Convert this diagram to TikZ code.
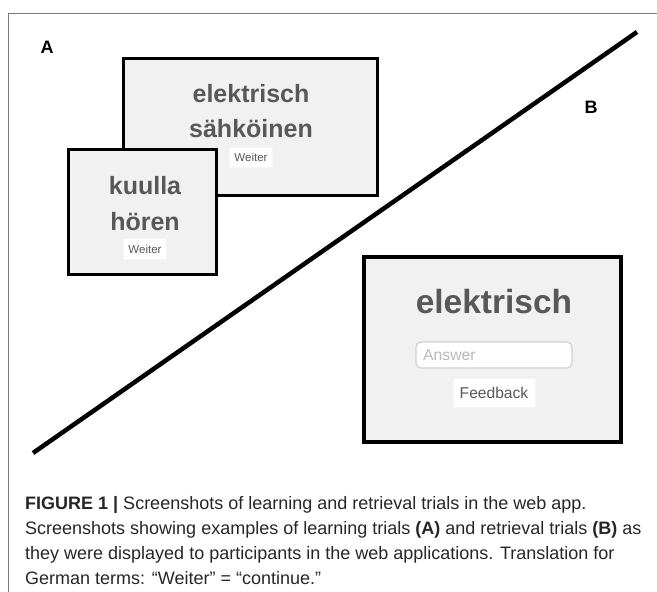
\documentclass[tikz,border=0pt]{standalone}
\usepackage{fontspec}
\setmainfont{Liberation Sans}
\usetikzlibrary{positioning}
\definecolor{screenfill}{HTML}{F1F1F1}
\definecolor{wordgray}{HTML}{585858}
\definecolor{framegray}{HTML}{7A7A7A}
\tikzset{
  trial/.style={x=1pt,y=-1pt},
  screen/.style={rectangle,draw=black,fill=screenfill,line width=2.6pt,inner sep=0pt},
  screen thick/.style={screen,line width=4pt},
  word/.style={anchor=base,text=wordgray,inner sep=0pt,
    font=\bfseries\fontsize{25}{25}\selectfont},
  big word/.style={word,font=\bfseries\fontsize{33.5}{33.5}\selectfont},
  button/.style={rectangle,fill=white,draw=gray!8,line width=0.6pt,inner sep=0pt,
    text=wordgray},
  field/.style={rectangle,rounded corners=5pt,fill=white,draw=gray!35,line width=1.2pt},
  panel label/.style={anchor=base,inner sep=0pt,font=\bfseries\fontsize{18}{18}\selectfont},
  caption/.style={anchor=base west,inner sep=0pt,text=black!85,
    font=\fontsize{18}{25}\selectfont}}

\begin{document}
\begin{tikzpicture}[trial]
  \useasboundingbox (0,0) rectangle (657,592);
  % figure frame
  \draw[framegray,line width=1pt] (657,13) -- (8,13) -- (8,592);
  \node[panel label] (labA) at (47,53) {A};
  \node[panel label] (labB) at (591,113) {B};
  % learning trials
  \node[screen,minimum width=254.4pt,minimum height=137.4pt] (learn1) at (250.5,127) {};
  \node[word] (learn1a) at (251,102) {elektrisch};
  \node[word] (learn1b) at (251,137) {sähköinen};
  \node[button,minimum width=43pt,minimum height=20pt,font=\fontsize{11.5}{11.5}\selectfont]
    (next1) at (251,157) {Weiter};
  \node[screen,minimum width=148.3pt,minimum height=125.3pt] (learn2) at (142.5,212) {};
  \node[word] (learn2a) at (145,194) {kuulla};
  \node[word] (learn2b) at (145,230) {hören};
  \node[button,minimum width=43pt,minimum height=21pt,font=\fontsize{11.5}{11.5}\selectfont]
    (next2) at (145,249) {Weiter};
  % divider
  \draw[line width=4.5pt] (33,453) -- (637,32);
  % retrieval trial
  \node[screen thick,minimum width=257pt,minimum height=185pt] (recall) at (492.5,349.5) {};
  \node[big word] (recallw) at (494,313) {elektrisch};
  \node[field,minimum width=156pt,minimum height=26pt] (answer) at (494,355) {};
  \node[anchor=base west,inner sep=0pt,text=gray!55,font=\fontsize{15.7}{15.7}\selectfont]
    (answertxt) at (423,360) {Answer};
  \node[button,minimum width=82pt,minimum height=29pt,font=\fontsize{15.6}{15.6}\selectfont]
    (feedback) at (494,392.5) {Feedback};
  % caption
  \node[caption] (cap1) at (25,509) {\textbf{FIGURE 1 |} Screenshots of learning and retrieval trials in the web app.};
  \node[caption] (cap2) at (25,534) {Screenshots showing examples of learning trials \textbf{(A)} and retrieval trials \textbf{(B)} as};
  \node[caption] (cap3) at (25,559) {they were displayed to participants in the web applications. Translation for};
  \node[caption] (cap4) at (25,584) {German terms: “Weiter” = “continue.”};
\end{tikzpicture}
\end{document}
